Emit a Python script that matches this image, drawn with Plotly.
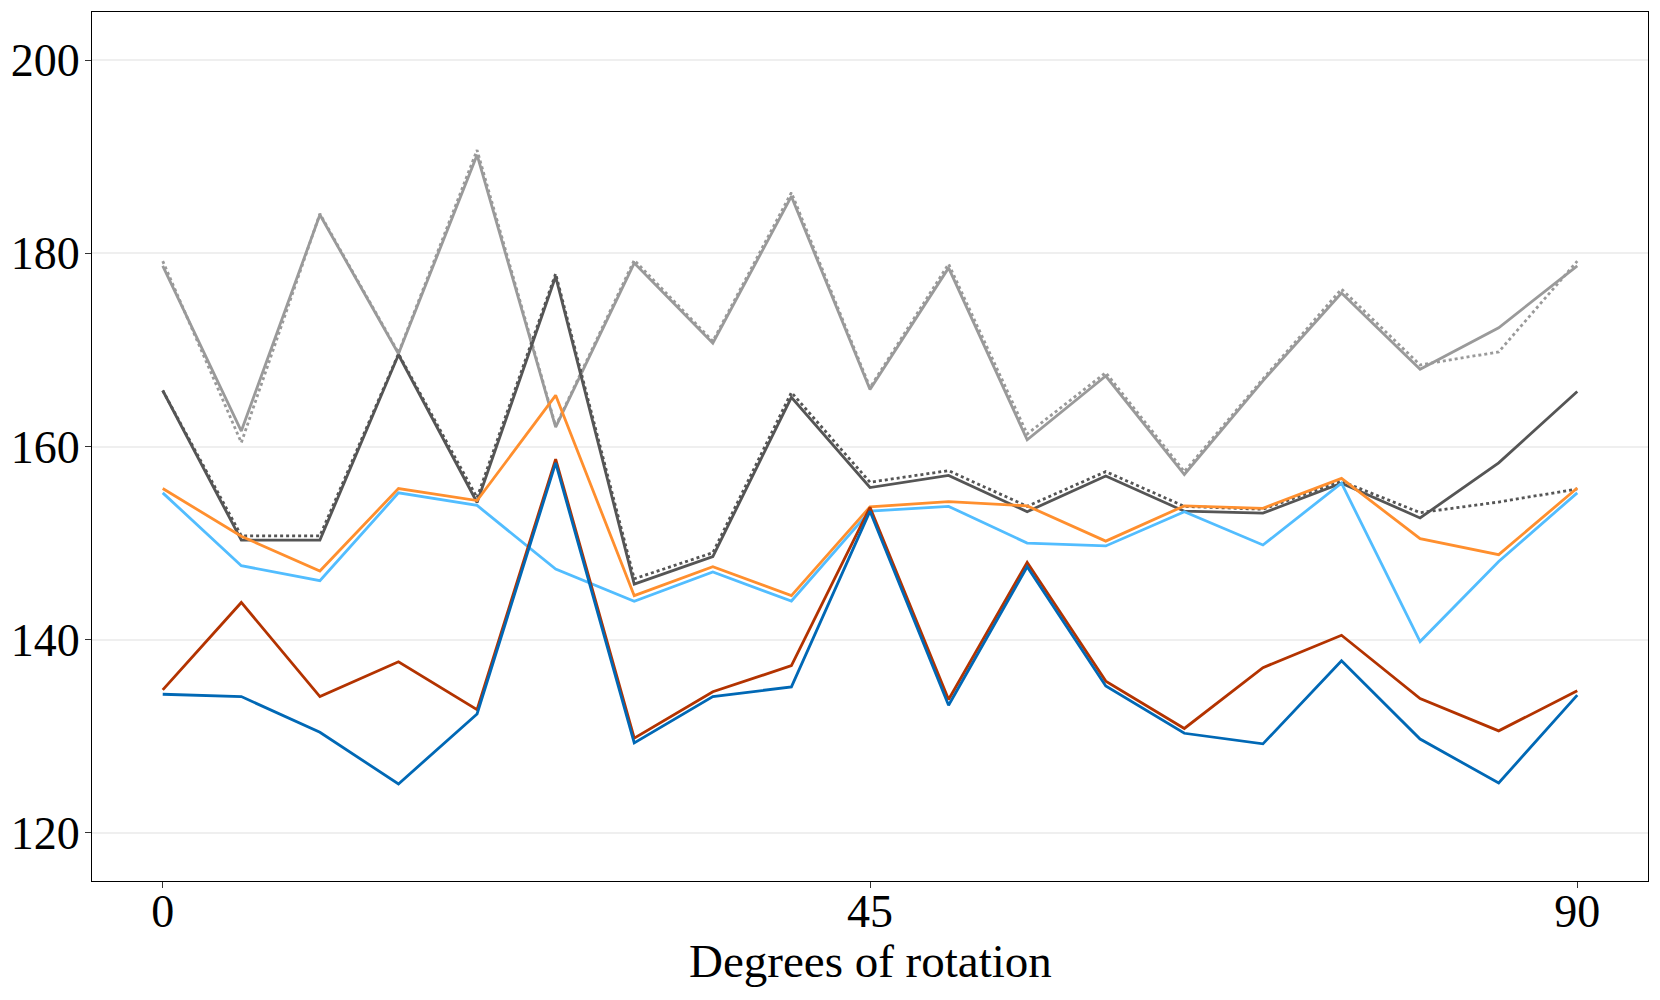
import plotly.graph_objects as go

degrees = [0, 5, 10, 15, 20, 25, 30, 35, 40, 45, 50, 55, 60, 65, 70, 75, 80, 85, 90]

light_gray_solid = [178.7, 161.6, 184.0, 169.6, 190.2, 162.0, 179.0, 170.7, 185.9, 165.9, 178.5, 160.7,
                    167.3, 157.1, 166.8, 175.9, 168.0, 172.3, 178.7]
light_gray_dotted = [179.2, 160.4, 184.1, 169.7, 190.7, 162.1, 179.3, 170.9, 186.3, 166.1, 178.9, 161.3,
                     167.65, 157.4, 167.0, 176.3, 168.45, 169.8, 179.2]
dark_gray_solid = [165.8, 150.3, 150.3, 169.5, 154.2, 177.6, 145.75, 148.6, 165.1, 155.75, 157.0, 153.25,
                   156.95, 153.3, 153.1, 156.2, 152.6, 158.3, 165.7]
dark_gray_dotted = [165.8, 150.75, 150.75, 169.6, 154.7, 177.9, 146.3, 149.0, 165.6, 156.3, 157.5, 153.8,
                    157.4, 153.8, 153.5, 156.4, 153.15, 154.25, 155.6]
orange = [155.65, 150.7, 147.1, 155.65, 154.4, 165.3, 144.55, 147.55, 144.55, 153.75, 154.3, 153.85,
          150.2, 153.85, 153.6, 156.7, 150.45, 148.8, 155.7]
light_blue = [155.2, 147.65, 146.1, 155.2, 153.9, 147.3, 143.97, 147.0, 144.0, 153.3, 153.8, 150.0,
              149.7, 153.25, 149.8, 156.2, 139.8, 148.1, 155.2]
red = [134.8, 143.85, 134.1, 137.7, 132.75, 158.7, 129.8, 134.6, 137.3, 153.7, 133.8, 148.0,
       135.7, 130.8, 137.1, 140.45, 133.9, 130.55, 134.7]
blue = [134.34, 134.1, 130.4, 125.05, 132.3, 158.3, 129.3, 134.1, 135.1, 153.3, 133.2, 147.55,
        135.2, 130.3, 129.2, 137.8, 129.7, 125.15, 134.25]

x_tick_vals = [0, 45, 90]
y_tick_vals = [120, 140, 160, 180, 200]
x_title = "Degrees of rotation"

series = [
    (light_gray_dotted, "#9a9a9a", "dot"),
    (light_gray_solid, "#9a9a9a", "solid"),
    (dark_gray_dotted, "#555555", "dot"),
    (dark_gray_solid, "#555555", "solid"),
    (orange, "#ff8f2e", "solid"),
    (light_blue, "#52bdff", "solid"),
    (red, "#b33300", "solid"),
    (blue, "#0068b5", "solid"),
]

fig = go.Figure()
for vals, color, dash in series:
    fig.add_trace(go.Scatter(x=degrees, y=vals, mode="lines",
                             line=dict(color=color, dash=dash, width=2.8),
                             showlegend=False))

font_family = "Liberation Serif"
fs = 46
# page has an 8px body margin, so the figure is sized/margined to compensate
fig.update_layout(
    width=1652, height=992,
    margin=dict(l=84, r=12, t=4, b=119, autoexpand=False),
    paper_bgcolor="white", plot_bgcolor="white",
    font=dict(family=font_family, size=fs, color="black"),
    showlegend=False,
)
fig.update_xaxes(
    range=[-4.5, 94.5], tickvals=x_tick_vals, ticktext=[str(v) for v in x_tick_vals],
    ticks="outside", ticklen=6, tickcolor="#333333", tickwidth=1.3,
    showline=True, linecolor="black", linewidth=1.3, mirror=True,
    showgrid=False, zeroline=False, automargin=False,
    tickfont=dict(size=fs), ticklabelstandoff=-16,
)
fig.update_yaxes(
    range=[115, 205], tickvals=y_tick_vals,
    ticks="outside", ticklen=6, tickcolor="#333333", tickwidth=1.3,
    showline=True, linecolor="black", linewidth=1.3, mirror=True,
    showgrid=True, gridcolor="#efefef", gridwidth=1.5, zeroline=False,
    automargin=False, tickfont=dict(size=fs), ticklabelstandoff=-4,
)
fig.add_annotation(x=45, xref="x", y=-0.092, yref="paper", yanchor="middle",
                   text=x_title, showarrow=False, font=dict(size=47))

fig.write_html("out.html")
